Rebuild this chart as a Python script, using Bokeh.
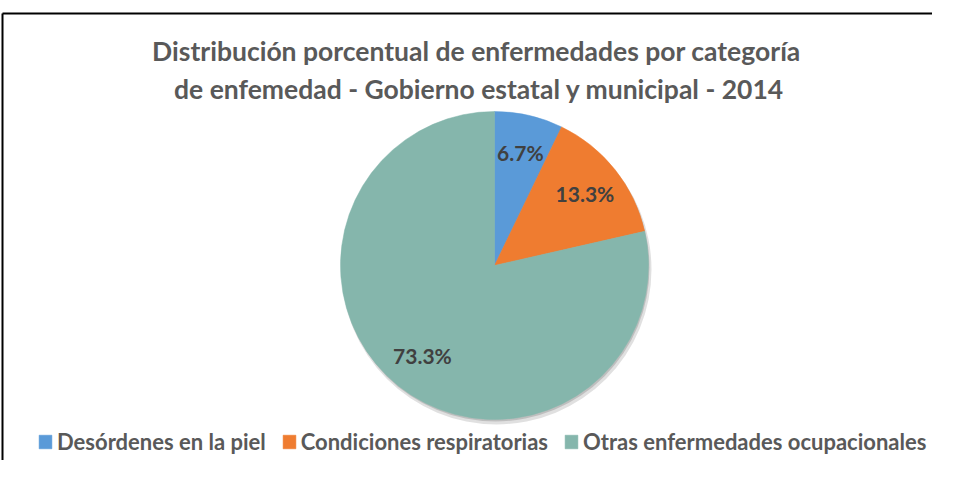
import math
from bokeh.plotting import figure
from bokeh.models import Range1d, Legend, LegendItem
from bokeh.core.properties import value
from bokeh.embed import file_html
from bokeh.resources import INLINE

# ---- data ----
title_lines = ["Distribución porcentual de enfermedades por categoría",
               "de enfemedad - Gobierno  estatal y municipal - 2014"]
categories = ["Desórdenes en la piel", "Condiciones respiratorias", "Otras enfermedades ocupacionales"]
percent = [6.7, 13.3, 73.3]
colors = ["#5A9AD8", "#EF7C30", "#85B6AC"]

W, H = 932, 460
p = figure(width=W, height=H, output_backend="svg", toolbar_location=None,
           x_range=Range1d(0, W), y_range=Range1d(0, H), min_border=0,
           x_axis_location=None, y_axis_location=None)
p.grid.visible = False
p.outline_line_color = None
p.background_fill_color = "white"
p.border_fill_color = "white"

# chart border (left and top edges visible in reference)
p.line(x=[2, 2], y=[0, 447], line_color="black", line_width=2)
p.line(x=[2, W], y=[447, 447], line_color="black", line_width=2)

# title
p.text(x=[476, 482], y=[410, 372], text=title_lines, text_align="center",
       text_baseline="middle", text_font=value("Lato"), text_font_style="bold",
       text_font_size="26.5px", text_color="#595959")

# pie
cx, cy, R = 494, 195, 154
total = sum(percent)
angles = [v / total * 2 * math.pi for v in percent]
starts, ends = [], []
a = math.pi / 2
for ang in angles:
    starts.append(a)
    ends.append(a - ang)
    a -= ang

# shadow
p.circle(x=[cx + 2], y=[cy - 4], radius=R + 1, fill_color="#000000", fill_alpha=0.12, line_color=None)
p.circle(x=[cx + 1], y=[cy - 2], radius=R, fill_color="#000000", fill_alpha=0.15, line_color=None)

renderers = []
for i in range(len(percent)):
    r = p.wedge(x=[cx], y=[cy], radius=R, start_angle=[starts[i]], end_angle=[ends[i]],
                direction="clock", fill_color=colors[i], line_color=colors[i], line_width=0.5)
    renderers.append(r)

# labels
lx, ly, lt = [], [], []
for i in range(len(percent)):
    mid = (starts[i] + ends[i]) / 2
    rr = 0.75 * R
    lx.append(cx + rr * math.cos(mid))
    ly.append(cy + rr * math.sin(mid))
    lt.append(f"{percent[i]:.1f}%")
p.text(x=lx, y=ly, text=lt, text_align="center", text_baseline="middle",
       text_font=value("Lato"), text_font_style="bold", text_font_size="21px",
       text_color="#404040")

legend = Legend(items=[LegendItem(label=categories[i], renderers=[renderers[i]]) for i in range(3)],
                orientation="horizontal", location=(37, 5), border_line_color=None,
                background_fill_alpha=0, padding=0, margin=0, spacing=15,
                glyph_width=16, glyph_height=17, label_standoff=4,
                label_text_font="Lato", label_text_font_style="bold",
                label_text_font_size="22px", label_text_color="#595959")
p.add_layout(legend, "center")

open("out.html", "w").write(file_html(p, INLINE))
